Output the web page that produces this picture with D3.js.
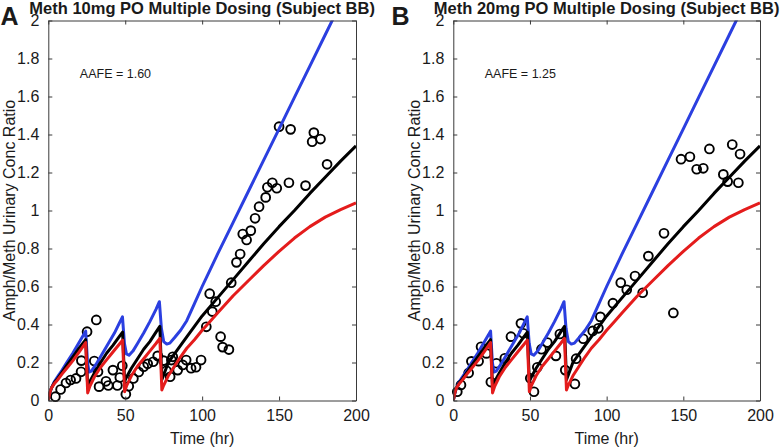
<!DOCTYPE html>
<html><head><meta charset="utf-8">
<script src="https://cdn.jsdelivr.net/npm/d3@7"></script>
<style>
body{margin:0;background:#fff;}
text{font-family:"Liberation Sans",Arial,Helvetica,sans-serif;fill:#1a1a1a;}
</style></head>
<body>
<svg id="c" width="780" height="448"></svg>
<script>
// ---------- DATA ----------
const xTicks = [0, 50, 100, 150, 200];
const yTicks = [0, 0.2, 0.4, 0.6, 0.8, 1, 1.2, 1.4, 1.6, 1.8, 2];
const yTickLabels = ["0", "0.2", "0.4", "0.6", "0.8", "1", "1.2", "1.4", "1.6", "1.8", "2"];
const titles = ["Meth 10mg PO Multiple Dosing (Subject BB)", "Meth 20mg PO Multiple Dosing (Subject BB)"];
const panelLetters = ["A", "B"];
const aafeLabels = ["AAFE = 1.60", "AAFE = 1.25"];

// model predictions [time (hr), ratio]
const modelBlue = [[0,0],[1,0.04],[2,0.065],[4,0.1],[6,0.125],[9,0.16],[12,0.2],[16,0.25],[20,0.305],[24.3,0.365],
  [25.5,0.2],[26.5,0.15],[28,0.155],[31,0.19],[35,0.245],[39,0.3],[43,0.355],[46,0.405],[48.2,0.44],
  [49.5,0.3],[50.8,0.245],[52.5,0.238],[55,0.26],[58,0.3],[62,0.355],[66,0.415],[70,0.48],[72.2,0.52],
  [73.5,0.38],[75,0.31],[77,0.297],[79,0.302],[82,0.33],[86,0.37],[90,0.42],[95,0.51],[100,0.6],[105,0.685],
  [110,0.77],[120,0.935],[130,1.1],[140,1.265],[150,1.43],[160,1.595],[170,1.76],[180,1.925],[190,2.09]];
const modelBlack = [[0,0],[1,0.04],[2,0.065],[4,0.095],[6,0.115],[9,0.15],[12,0.185],[16,0.23],[20,0.275],[24.3,0.32],
  [25.6,0.07],[27,0.1],[30,0.145],[34,0.2],[38,0.25],[42,0.29],[46,0.335],[48.3,0.36],
  [49.6,0.1],[51,0.125],[54,0.17],[58,0.22],[62,0.27],[66,0.31],[70,0.36],[72.5,0.39],
  [73.8,0.11],[75,0.135],[78,0.2],[82,0.245],[86,0.29],[90,0.335],[95,0.39],[100,0.445],[110,0.54],
  [120,0.635],[130,0.73],[140,0.825],[150,0.915],[160,1.0],[170,1.09],[180,1.175],[190,1.26],[200,1.34]];
const modelRed = [[0,0],[1,0.04],[2,0.065],[4,0.09],[6,0.108],[9,0.14],[12,0.17],[16,0.21],[20,0.255],[24.3,0.305],
  [25.6,0.04],[27,0.075],[30,0.125],[34,0.175],[38,0.215],[42,0.255],[46,0.295],[48.3,0.318],
  [49.6,0.046],[51,0.08],[54,0.13],[58,0.18],[62,0.22],[66,0.26],[70,0.3],[72.5,0.327],
  [73.8,0.055],[75,0.08],[78,0.13],[82,0.18],[86,0.23],[90,0.275],[95,0.32],[100,0.37],[105,0.415],
  [110,0.46],[120,0.55],[130,0.63],[140,0.71],[150,0.785],[160,0.855],[170,0.915],[180,0.965],[190,1.005],[200,1.04]];

// observed data [time (hr), ratio]
const obs10mg = [[4.6,0.02],[8,0.058],[11.5,0.092],[14.5,0.108],[18,0.116],[21.3,0.151],[21.5,0.21],[25.2,0.362],
  [31.2,0.424],[29.9,0.208],[32.3,0.151],[33,0.073],[37.5,0.101],[39,0.079],[42,0.16],[44.9,0.079],[46.5,0.121],
  [48.1,0.183],[50.4,0.033],[52.3,0.075],[55.3,0.116],[58.8,0.15],[62,0.178],[64.6,0.193],[68.2,0.204],[71.1,0.235],
  [74.9,0.21],[76.8,0.157],[79.2,0.125],[80,0.213],[80.9,0.23],[84.1,0.16],[87.4,0.187],[89.6,0.213],[92.8,0.17],
  [96,0.175],[99.3,0.213],[102.7,0.388],[104.9,0.562],[106.6,0.468],[108.8,0.52],[112,0.336],[113.3,0.281],
  [117.4,0.268],[118.9,0.62],[122.3,0.727],[124.7,0.771],[126.4,0.876],[128.9,0.845],[131.6,0.894],[134.4,0.959],
  [137,1.02],[141.3,1.069],[142.4,1.122],[145.6,1.146],[148.5,1.117],[156.4,1.146],[150,1.441],[157.5,1.427],
  [167.2,1.131],[172.6,1.41],[171.5,1.362],[176.9,1.376],[181.2,1.243]];
const obs20mg = [[2.6,0.046],[5,0.082],[10,0.145],[11.8,0.206],[16.5,0.207],[18.1,0.283],[21.6,0.248],[24.5,0.097],
  [28.1,0.196],[33.6,0.222],[37.6,0.336],[44.1,0.406],[45.6,0.354],[50.2,0.117],[52.6,0.046],[54.8,0.175],
  [57.5,0.27],[61.3,0.305],[66.9,0.235],[69.5,0.35],[73,0.16],[79.3,0.087],[80.1,0.22],[84.7,0.325],[90.9,0.366],
  [94.6,0.38],[95.9,0.44],[104.1,0.512],[109.2,0.62],[113.1,0.583],[118.5,0.655],[123.5,0.567],[127.2,0.76],
  [137.4,0.88],[143.5,0.461],[148.5,1.27],[154.3,1.283],[158.7,1.217],[163,1.222],[167,1.324],[176.1,1.19],
  [178.9,1.152],[181.9,1.347],[185.9,1.146],[187,1.297]];

const observed = [obs10mg, obs20mg];
const models = [
  {data: modelBlue, color: "#2b3fe0"},
  {data: modelBlack, color: "#000000"},
  {data: modelRed, color: "#e41c1c"}
];

// ---------- LAYOUT ----------
const svg = d3.select("#c");
const panels = [
  {left: 48.3, right: 356, letterX: 0.5, ylabX: 14.5},
  {left: 453.3, right: 760, letterX: 391.5, ylabX: 419.5}
];
const plotTop = 20.5, plotBottom = 400.5;
const axisColor = "#3a3a3a";

panels.forEach((p, i) => {
  const x = d3.scaleLinear().domain([0, 200]).range([p.left, p.right]);
  const y = d3.scaleLinear().domain([0, 2]).range([plotBottom, plotTop]);
  const g = svg.append("g");
  const clipId = "clip" + i;
  svg.append("clipPath").attr("id", clipId).append("rect")
    .attr("x", p.left).attr("y", plotTop).attr("width", p.right - p.left).attr("height", plotBottom - plotTop);

  // observed circles
  g.append("g").selectAll("circle").data(observed[i]).join("circle")
    .attr("cx", d => x(d[0])).attr("cy", d => y(d[1])).attr("r", 4.4)
    .attr("fill", "none").attr("stroke", "#000").attr("stroke-width", 1.9);

  // model lines
  const line = d3.line().x(d => x(d[0])).y(d => y(d[1]));
  const lg = g.append("g").attr("clip-path", `url(#${clipId})`);
  models.forEach(m => {
    lg.append("path").attr("d", line(m.data)).attr("fill", "none")
      .attr("stroke", m.color).attr("stroke-width", 3).attr("stroke-linejoin", "round");
  });

  // axes (box with inward ticks)
  const tl = 4;
  const ax = g.append("g").attr("transform", `translate(0,${plotBottom})`)
    .call(d3.axisBottom(x).tickValues(xTicks).tickSizeInner(-tl).tickSizeOuter(0).tickPadding(9).tickFormat(d3.format("d")));
  const axT = g.append("g").attr("transform", `translate(0,${plotTop})`)
    .call(d3.axisTop(x).tickValues(xTicks).tickSizeInner(-tl).tickSizeOuter(0).tickFormat(""));
  const ay = g.append("g").attr("transform", `translate(${p.left},0)`)
    .call(d3.axisLeft(y).tickValues(yTicks).tickSizeInner(-tl).tickSizeOuter(0).tickPadding(9).tickFormat((d, k) => yTickLabels[k]));
  const ayR = g.append("g").attr("transform", `translate(${p.right},0)`)
    .call(d3.axisRight(y).tickValues(yTicks).tickSizeInner(-tl).tickSizeOuter(0).tickFormat(""));
  [ax, axT, ay, ayR].forEach(a => {
    a.select(".domain").attr("stroke", axisColor).attr("stroke-width", 1);
    a.selectAll(".tick line").attr("stroke", axisColor);
    a.selectAll(".tick text").attr("font-size", 16).attr("fill", "#1a1a1a")
      .attr("font-family", '"Liberation Sans", Arial, sans-serif');
  });

  // labels
  const cx = (p.left + p.right) / 2;
  svg.append("text").attr("x", cx).attr("y", 444).attr("text-anchor", "middle")
    .attr("font-size", 16).text("Time (hr)");
  svg.append("text").attr("transform", `translate(${p.ylabX},${(plotTop + plotBottom) / 2}) rotate(-90)`)
    .attr("text-anchor", "middle").attr("font-size", 16).text("Amph/Meth Urinary Conc Ratio");
  svg.append("text").attr("x", cx).attr("y", 14).attr("text-anchor", "middle")
    .attr("font-size", 16.5).attr("font-weight", "bold").text(titles[i]);
  svg.append("text").attr("x", p.letterX).attr("y", 25).attr("font-size", 25)
    .attr("font-weight", "bold").text(panelLetters[i]);
  svg.append("text").attr("x", x(20.5)).attr("y", 77.5).attr("font-size", 12.5)
    .text(aafeLabels[i]);
});
</script>
</body></html>
